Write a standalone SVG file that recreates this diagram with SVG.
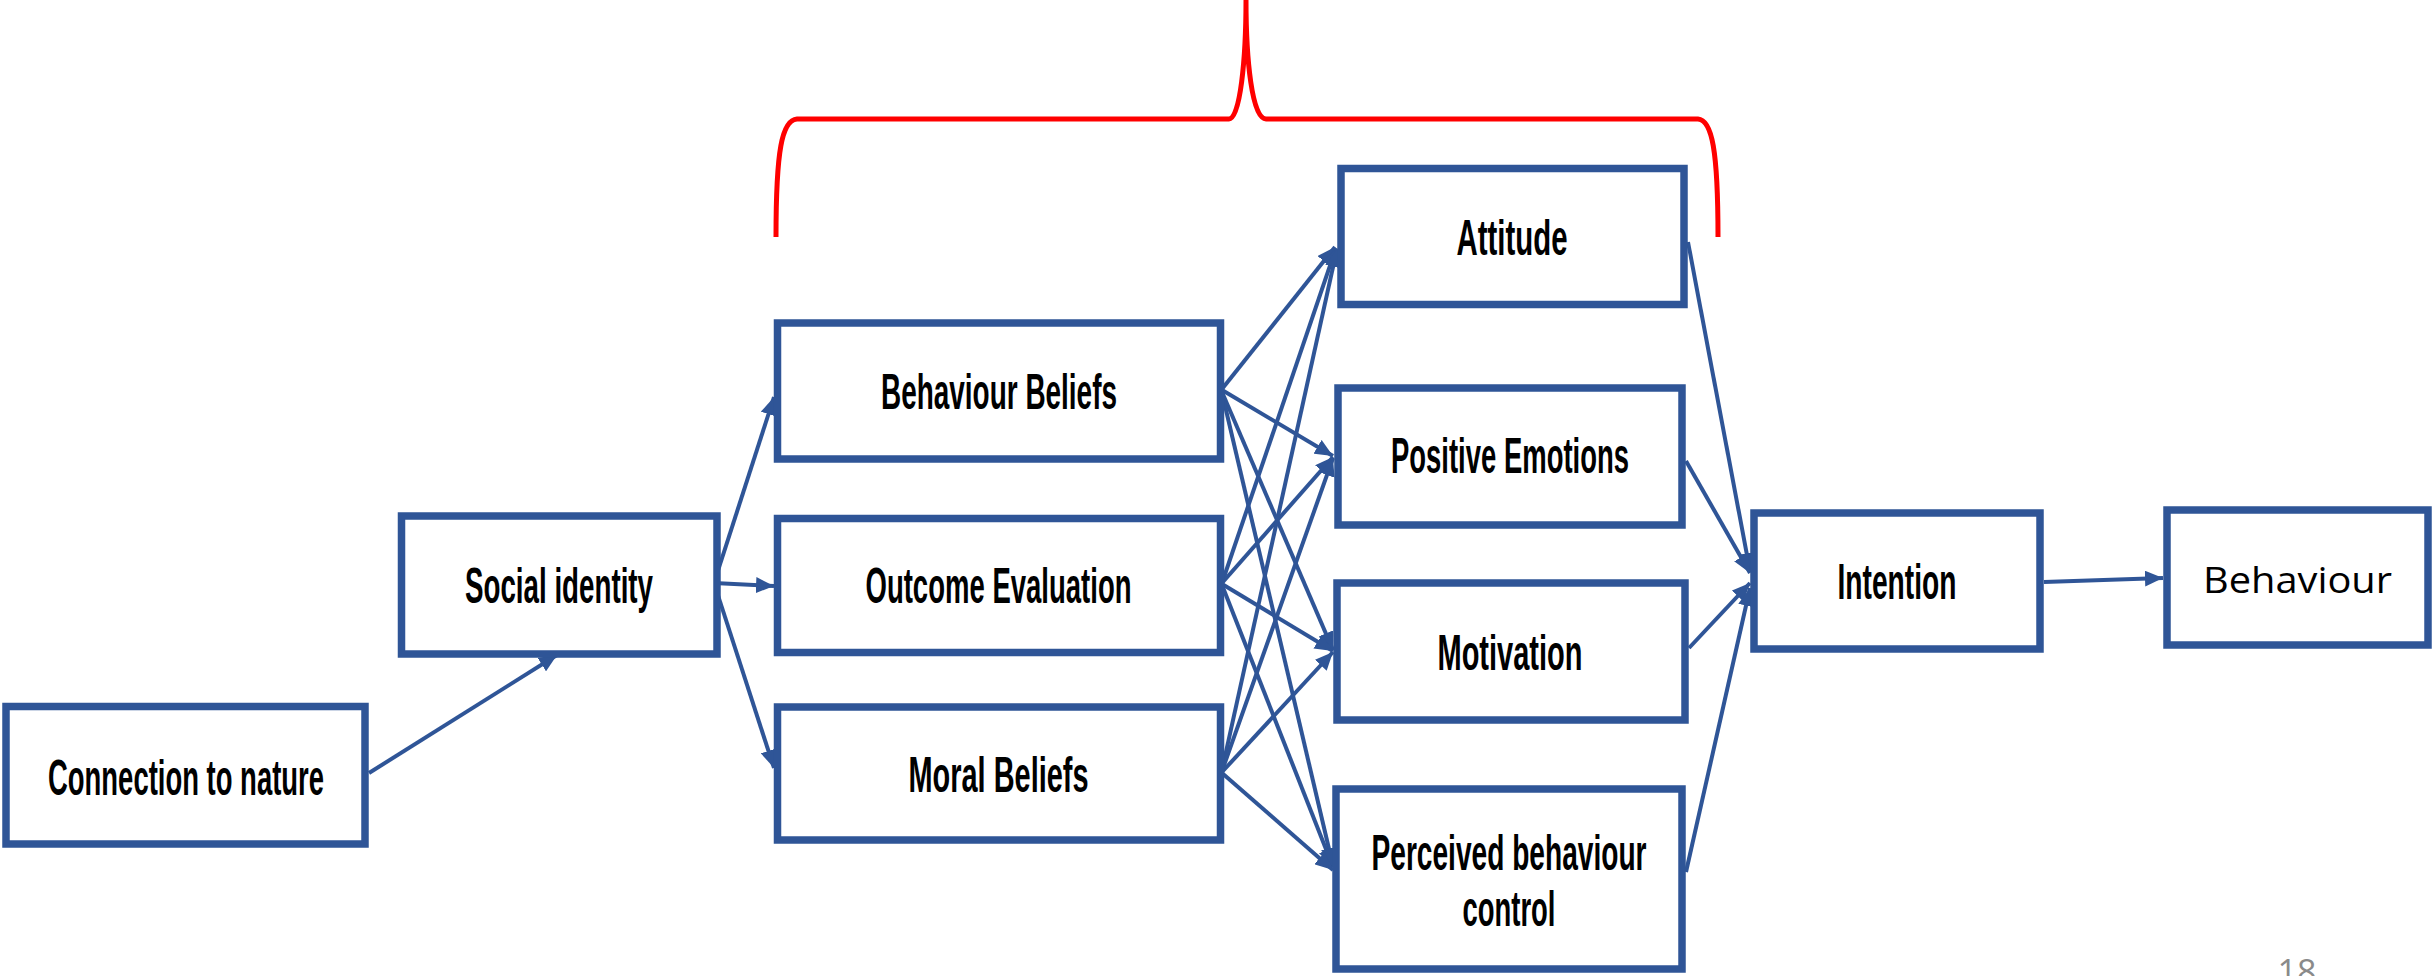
<svg xmlns="http://www.w3.org/2000/svg" width="2433" height="976" viewBox="0 0 2433 976">
<style>
.box{fill:#ffffff;stroke:#2F5597;stroke-width:7.5}
.lbl{font-family:'Liberation Sans Narrow','Liberation Sans',sans-serif;font-weight:bold;font-size:50px;fill:#000;text-anchor:middle}
.lbl2{font-family:'Open Sans','Noto Sans',sans-serif;font-size:37px;fill:#000;text-anchor:middle}
.con{fill:none;stroke:#2F5597;stroke-width:4;marker-end:url(#ah)}
.brace{fill:none;stroke:#FF0000;stroke-width:5}
</style>
<defs>
<marker id="ah" markerUnits="userSpaceOnUse" markerWidth="18" markerHeight="16" refX="18" refY="8" orient="auto">
<path d="M0,0 L18,8 L0,16 z" fill="#2F5597"/>
</marker>
</defs>
<rect width="2433" height="976" fill="#ffffff"/>
<path class="brace" d="M776,237 C776,150 782,120 797,119 L1229,119 C1240,119 1246,60 1246,0 C1246,60 1252,119 1266,119 L1698,119 C1712,120 1718,150 1718,237"/>
<g id="connectors">
<path class="con" d="M369,773 L557,655"/>
<path class="con" d="M714,583 L774,397"/>
<path class="con" d="M714,583 L774,586"/>
<path class="con" d="M714,583 L774,768"/>
<path class="con" d="M1222,389 L1335,247"/>
<path class="con" d="M1222,390 L1333,456"/>
<path class="con" d="M1222,392 L1333,650"/>
<path class="con" d="M1222,393 L1333,866"/>
<path class="con" d="M1222,583 L1336,248"/>
<path class="con" d="M1222,583 L1333,457"/>
<path class="con" d="M1222,584 L1333,651"/>
<path class="con" d="M1222,585 L1333,867"/>
<path class="con" d="M1222,770 L1337,249"/>
<path class="con" d="M1222,771 L1333,458"/>
<path class="con" d="M1222,772 L1333,652"/>
<path class="con" d="M1222,773 L1333,870"/>
<path class="con" d="M1688,242 L1750,571"/>
<path class="con" d="M1686,461 L1750,573"/>
<path class="con" d="M1689,648 L1750,583"/>
<path class="con" d="M1686,872 L1750,588"/>
<path class="con" d="M2044,582 L2163,578"/>
</g>
<g id="n-connection"><rect class="box" x="6" y="706.5" width="359" height="137.5"/><text class="lbl" x="186" y="795" textLength="276" lengthAdjust="spacingAndGlyphs">Connection to nature</text></g>
<g id="n-social"><rect class="box" x="401.5" y="516" width="315.5" height="138"/><text class="lbl" x="559" y="603" textLength="188" lengthAdjust="spacingAndGlyphs">Social identity</text></g>
<g id="n-bb"><rect class="box" x="777.5" y="323" width="443" height="136"/><text class="lbl" x="999" y="409" textLength="236" lengthAdjust="spacingAndGlyphs">Behaviour Beliefs</text></g>
<g id="n-oe"><rect class="box" x="777.5" y="518.5" width="443" height="134"/><text class="lbl" x="998.5" y="603" textLength="266" lengthAdjust="spacingAndGlyphs">Outcome Evaluation</text></g>
<g id="n-mb"><rect class="box" x="777.5" y="707" width="443" height="133"/><text class="lbl" x="998.5" y="792" textLength="180" lengthAdjust="spacingAndGlyphs">Moral Beliefs</text></g>
<g id="n-att"><rect class="box" x="1341" y="168.5" width="343" height="136"/><text class="lbl" x="1512" y="255" textLength="111" lengthAdjust="spacingAndGlyphs">Attitude</text></g>
<g id="n-pe"><rect class="box" x="1338" y="388" width="344" height="137"/><text class="lbl" x="1510" y="473" textLength="238" lengthAdjust="spacingAndGlyphs">Positive Emotions</text></g>
<g id="n-mot"><rect class="box" x="1337" y="583" width="348" height="137"/><text class="lbl" x="1510" y="670" textLength="145" lengthAdjust="spacingAndGlyphs">Motivation</text></g>
<g id="n-pbc"><rect class="box" x="1336" y="789" width="346" height="180"/><text class="lbl" x="1509" y="870" textLength="275" lengthAdjust="spacingAndGlyphs">Perceived behaviour</text><text class="lbl" x="1509" y="926" textLength="93" lengthAdjust="spacingAndGlyphs">control</text></g>
<g id="n-int"><rect class="box" x="1754" y="513" width="286" height="136"/><text class="lbl" x="1897" y="599" textLength="119" lengthAdjust="spacingAndGlyphs">Intention</text></g>
<g id="n-beh"><rect class="box" x="2167" y="510" width="261" height="135"/><text class="lbl2" x="2297.5" y="593" textLength="189" lengthAdjust="spacingAndGlyphs">Behaviour</text></g>
<text x="2297" y="984" font-family="'Open Sans','Liberation Sans',sans-serif" font-size="34" fill="#8a8a8a" text-anchor="middle">18</text>
</svg>
